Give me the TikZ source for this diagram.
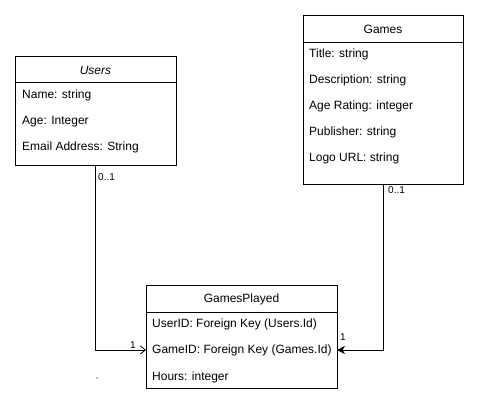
\documentclass[tikz,border=0pt]{standalone}
\usepackage{fontspec}
\setmainfont{Liberation Sans}
\usetikzlibrary{arrows.meta}
\begin{document}
\begin{tikzpicture}[x=1pt,y=-1pt,
  box/.style={draw,line width=0.9pt,inner sep=0pt},
  attr/.style={anchor=west,inner sep=0pt,font=\fontsize{12}{14}\selectfont},
  ttl/.style={inner sep=0pt,font=\fontsize{12}{14}\selectfont},
  lbl/.style={inner sep=0pt,font=\fontsize{10}{12}\selectfont},
  conn/.style={line width=0.8pt}]
\useasboundingbox (0,0) rectangle (479,408);
% Users
\node[box,minimum width=161pt,minimum height=109pt] (users) at (95.5,110.5) {};
\draw[line width=0.9pt] (15,82) -- (176,82);
\node[ttl] (usersT) at (95.5,70) {\itshape Users};
\node[attr] (u1) at (22,95.5) {Name: string};
\node[attr] (u2) at (22,121.5) {Age: Integer};
\node[attr] (u3) at (22,147.5) {Email Address: String};
% Games
\node[box,minimum width=160pt,minimum height=169pt] (games) at (383,99.5) {};
\draw[line width=0.9pt] (303,42) -- (463,42);
\node[ttl] (gamesT) at (383,29) {Games};
\node[attr] (g1) at (309,54.5) {Title: string};
\node[attr] (g2) at (309,80.5) {Description: string};
\node[attr] (g3) at (309,106.5) {Age Rating: integer};
\node[attr] (g4) at (309,132.5) {Publisher: string};
\node[attr] (g5) at (309,158.5) {Logo URL: string};
% GamesPlayed
\node[box,minimum width=191pt,minimum height=103pt] (gp) at (241.5,336.5) {};
\draw[line width=0.9pt] (146,312) -- (337,312);
\node[ttl] (gpT) at (241.5,299) {GamesPlayed};
\node[attr] (p1) at (152,324.5) {UserID: Foreign Key (Users.Id)};
\node[attr] (p2) at (152,350.5) {GameID: Foreign Key (Games.Id)};
\node[attr] (p3) at (152,377.5) {Hours: integer};
% connectors
\coordinate (gpL) at (146,350);
\coordinate (gpR) at (337,350);
\draw[conn,-{Straight Barb[length=5pt,width=8pt]}] (users.south) |- (gpL);
\draw[conn,-{Stealth[length=8pt,width=8pt,inset=2.5pt]}] (games.south) |- (gpR);
\node[lbl,anchor=west] (l1) at (98,177) {0..1};
\node[lbl,anchor=west] (l2) at (388,190) {0..1};
\node[lbl] (l3) at (133,345) {1};
\node[lbl] (l4) at (343,337) {1};
\fill (97,378) circle (0.6pt);
\end{tikzpicture}
\end{document}
